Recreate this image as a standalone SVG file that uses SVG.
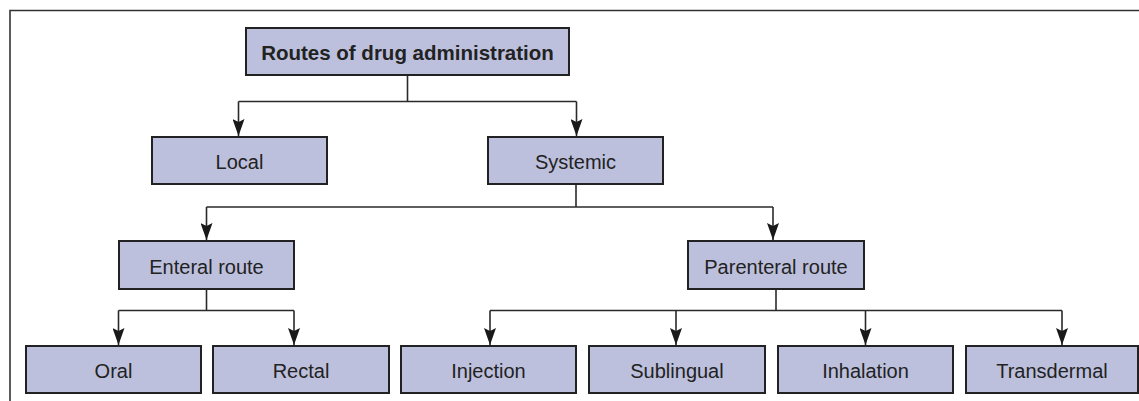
<svg xmlns="http://www.w3.org/2000/svg" width="1139" height="401" viewBox="0 0 1139 401">
<style>
.box{fill:#bdc0dd;stroke:#222;stroke-width:2}
.lbl{font-family:"Liberation Sans",Arial,sans-serif;font-size:20px;fill:#222;text-anchor:middle}
.ttl{font-weight:bold;font-size:20.5px}
.ln{fill:none;stroke:#2a2a2a;stroke-width:1.6}
.frame{fill:none;stroke:#333;stroke-width:1.6}
</style>
<defs>
<marker id="arr" markerUnits="userSpaceOnUse" markerWidth="17" markerHeight="12" viewBox="0 0 17 12" refX="17" refY="6" orient="auto">
<path d="M0,0 L17,6 L0,12 L3,6 z" fill="#1a1a1a"/>
</marker>
</defs>
<path class="frame" d="M10,401 V10.5 H1139"/>
<g id="connectors">
<path class="ln" d="M407.5,75 V101.5"/>
<path class="ln" d="M238.5,101.5 H576.5"/>
<path class="ln" d="M238.5,101.5 V136" marker-end="url(#arr)"/>
<path class="ln" d="M576.5,101.5 V136" marker-end="url(#arr)"/>
<path class="ln" d="M576,184 V207"/>
<path class="ln" d="M206.5,207 H773"/>
<path class="ln" d="M206.5,207 V240" marker-end="url(#arr)"/>
<path class="ln" d="M773,207 V240" marker-end="url(#arr)"/>
<path class="ln" d="M206.5,289 V310.5"/>
<path class="ln" d="M118.5,310.5 H294"/>
<path class="ln" d="M118.5,310.5 V345" marker-end="url(#arr)"/>
<path class="ln" d="M294,310.5 V345" marker-end="url(#arr)"/>
<path class="ln" d="M776,289 V310.5"/>
<path class="ln" d="M490,310.5 H1062"/>
<path class="ln" d="M490,310.5 V345" marker-end="url(#arr)"/>
<path class="ln" d="M676,310.5 V345" marker-end="url(#arr)"/>
<path class="ln" d="M865.5,310.5 V345" marker-end="url(#arr)"/>
<path class="ln" d="M1062,310.5 V345" marker-end="url(#arr)"/>
</g>
<g id="n-title"><rect class="box" x="246" y="28" width="323" height="47"/><text class="lbl ttl" x="407.5" y="60">Routes of drug administration</text></g>
<g id="n-local"><rect class="box" x="152" y="137" width="175" height="47"/><text class="lbl" x="239.5" y="169">Local</text></g>
<g id="n-systemic"><rect class="box" x="488" y="137" width="175" height="47"/><text class="lbl" x="575.5" y="169">Systemic</text></g>
<g id="n-enteral"><rect class="box" x="119" y="241" width="175" height="48"/><text class="lbl" x="206.5" y="274">Enteral route</text></g>
<g id="n-parenteral"><rect class="box" x="688" y="241" width="176" height="48"/><text class="lbl" x="776" y="274">Parenteral route</text></g>
<g id="n-oral"><rect class="box" x="26" y="346" width="175" height="47"/><text class="lbl" x="113.5" y="378">Oral</text></g>
<g id="n-rectal"><rect class="box" x="213" y="346" width="176" height="47"/><text class="lbl" x="301" y="378">Rectal</text></g>
<g id="n-injection"><rect class="box" x="401" y="346" width="175" height="47"/><text class="lbl" x="488.5" y="378">Injection</text></g>
<g id="n-sublingual"><rect class="box" x="589" y="346" width="176" height="47"/><text class="lbl" x="677" y="378">Sublingual</text></g>
<g id="n-inhalation"><rect class="box" x="778" y="346" width="175" height="47"/><text class="lbl" x="865.5" y="378">Inhalation</text></g>
<g id="n-transdermal"><rect class="box" x="966" y="346" width="172" height="47"/><text class="lbl" x="1052" y="378">Transdermal</text></g>
</svg>
